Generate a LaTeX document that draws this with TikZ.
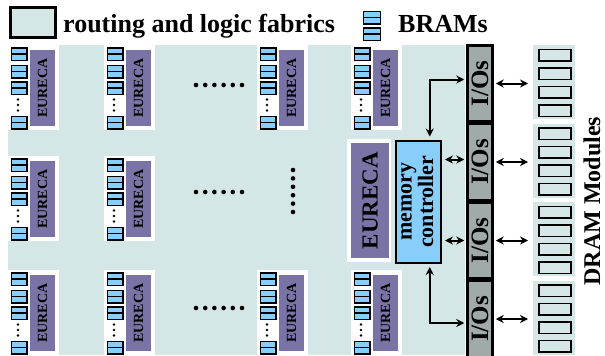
\documentclass[tikz,border=0pt]{standalone}
\usepackage{fontspec}
\setmainfont{Liberation Serif}
\usetikzlibrary{calc,positioning,arrows.meta}

\definecolor{fabric}{RGB}{213,230,230}
\definecolor{eureca}{RGB}{122,115,166}
\definecolor{bram}{RGB}{135,206,250}
\definecolor{iogray}{RGB}{160,170,168}

\tikzset{
  tilebg/.style={fill=white, inner sep=0pt, anchor=north west, minimum width=51pt, minimum height=85pt},
  eurecabox/.style={fill=eureca, inner sep=0pt, rotate=90, minimum width=76pt, minimum height=25pt,
    font=\bfseries\fontsize{14}{14}\selectfont},
  bramcell/.style={draw, line width=1.6pt, fill=bram, inner sep=0pt, anchor=north west,
    minimum width=15.5pt, minimum height=12.5pt,
    path picture={\draw[line width=1.3pt] (path picture bounding box.west) -- (path picture bounding box.east);}},
  iobox/.style={draw, line width=2.5pt, fill=iogray, inner sep=0pt, anchor=north west,
    minimum width=25pt, minimum height=76pt, font=\bfseries\fontsize{25}{25}\selectfont},
  drambg/.style={fill=fabric, inner sep=0pt, anchor=north west, minimum width=42pt, minimum height=74pt},
  dramcell/.style={draw, line width=1.5pt, fill=fabric, inner sep=0pt, anchor=north west,
    minimum width=32pt, minimum height=11.5pt},
  bigtext/.style={font=\bfseries\fontsize{26}{26}\selectfont, inner sep=0pt},
  link/.style={line width=2pt},
}

% one block of BRAMs next to an EURECA core
\newcommand{\fpgatile}[3]{%
  \node[tilebg] (#1) at (#2,#3) {};
  \node[eurecabox] (#1eu) at ($(#1.north west)+(34.5,43)$) {EURECA};
  \node[bramcell] (#1b1) at ($(#1.north west)+(2.5,2)$) {};
  \node[bramcell] (#1b2) at ($(#1.north west)+(2.5,19.5)$) {};
  \node[bramcell] (#1b3) at ($(#1.north west)+(2.5,36)$) {};
  \node[bramcell] (#1b4) at ($(#1.north west)+(2.5,70.5)$) {};
  \foreach \d in {54.5,60,65.5} \fill ($(#1.north west)+(10,\d)$) circle (1.4pt);
}

\begin{document}
\begin{tikzpicture}[x=1pt, y=-1pt, >={Stealth[length=8pt,width=8pt]}]
\useasboundingbox (0,0) rectangle (605,356);

% legend
\node[draw, line width=3pt, fill=fabric, inner sep=0pt, anchor=north west, minimum width=45pt, minimum height=30pt] (legfabric) at (8.5,5.5) {};
\node[bigtext, anchor=base west] (legfabrictxt) at (63,32) {routing and logic fabrics};
\node[bramcell, minimum width=17pt] (legbram1) at (362.5,10.5) {};
\node[bramcell, minimum width=17pt] (legbram2) at (362.5,27) {};
\node[bigtext, anchor=base west] (legbramtxt) at (398,32) {BRAMs};

% fabric
\node[fill=fabric, inner sep=0pt, anchor=north west, minimum width=457pt, minimum height=310pt] (fabric) at (8,45) {};

\fpgatile{t11}{8}{45}
\fpgatile{t12}{104}{45}
\fpgatile{t13}{257}{45}
\fpgatile{t14}{351}{45}
\fpgatile{t21}{8}{156}
\fpgatile{t22}{104}{156}
\fpgatile{t31}{8}{270}
\fpgatile{t32}{104}{270}
\fpgatile{t33}{257}{270}
\fpgatile{t34}{351}{270}

% dots
\foreach \y in {85,192,308}
  \foreach \k in {0,...,5} \fill (196+9.2*\k,\y) circle (2.3pt);
\foreach \k in {0,...,5} \fill (293,170+8.4*\k) circle (2.3pt);

% EURECA and memory controller
\node[tilebg, minimum width=44pt, minimum height=123pt] (bigtile) at (347,139) {};
\node[eurecabox, minimum width=115pt, minimum height=38pt, font=\bfseries\fontsize{23}{23}\selectfont] (bigeureca) at (370,200.5) {EURECA};
\node[draw, line width=2.5pt, fill=bram, inner sep=0pt, anchor=north west, minimum width=45pt, minimum height=122pt,
  font=\bfseries\fontsize{22}{21}\selectfont] (mc) at (394.5,139.5)
  {\rotatebox{90}{\begin{tabular}{@{}c@{}}memory\\controller\end{tabular}}};

% I/Os and DRAM
\foreach \i/\y in {1/44.25,2/122.75,3/201.25,4/279.75}
  \node[iobox] (io\i) at (466.25,\y) {\rotatebox{90}{I/Os}};
\foreach \i/\y in {1/45,2/123.5,3/202,4/280.5} {
  \node[drambg] (dram\i) at (533,\y) {};
  \foreach \k in {0,...,3}
    \node[dramcell] (dram\i c\k) at ($(dram\i.north west)+(5,3.5+18.5*\k)$) {};
}
\node[bigtext, font=\bfseries\fontsize{24}{24}\selectfont, rotate=90] (dramlabel) at (592,201) {DRAM Modules};

\foreach \i in {1,...,4}
  \draw[<->, link, shorten <=2pt, shorten >=5pt] (io\i.east) -- (io\i.east -| dram\i.west);
\draw[<->, link, shorten <=3pt, shorten >=2pt] ([yshift=2.5pt]mc.east |- io2.west) -- ([yshift=2.5pt]io2.west);
\draw[<->, link, shorten <=3pt, shorten >=2pt] (mc.east |- io3.west) -- (io3.west);
\draw[<->, link, shorten <=3pt, shorten >=2pt] ([xshift=11.5pt]mc.north) |- ([yshift=4pt]io1.west);
\draw[<->, link, shorten <=3pt, shorten >=2pt] ([xshift=11.5pt]mc.south) |- ([yshift=-4pt]io4.west);
\end{tikzpicture}
\end{document}
